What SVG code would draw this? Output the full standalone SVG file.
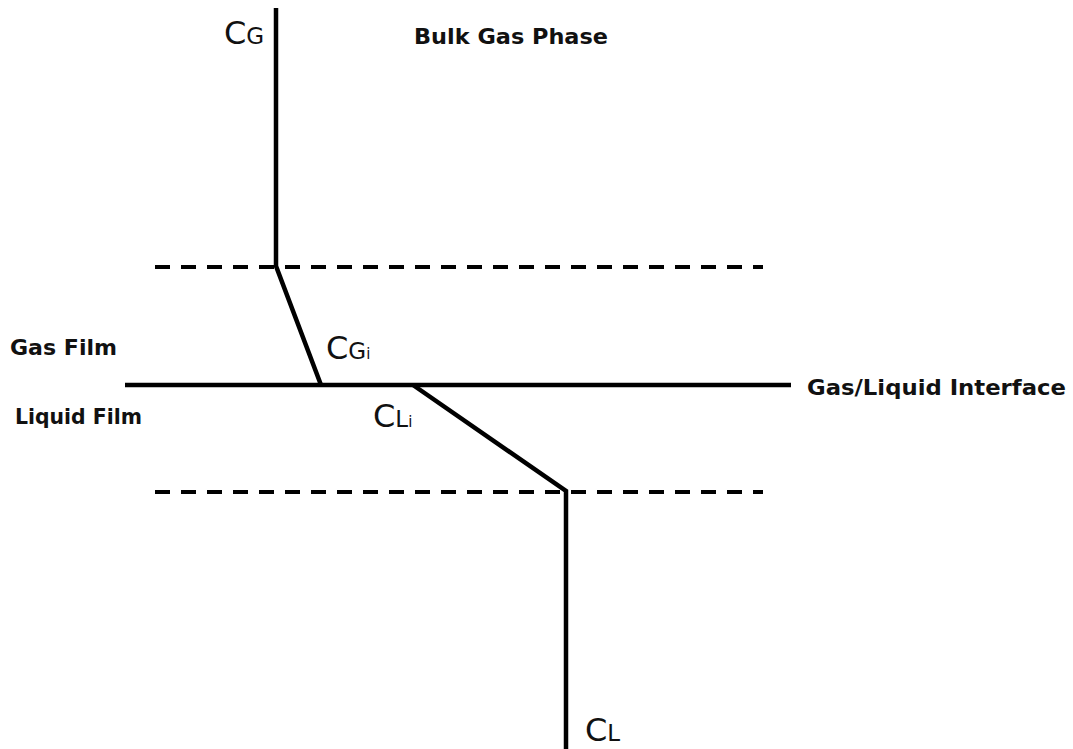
<svg xmlns="http://www.w3.org/2000/svg" width="1073" height="749" viewBox="0 0 1073 749">
<style>
.lbl{font-family:"DejaVu Sans",Verdana,sans-serif;font-weight:bold;font-size:21px;fill:#111}
.c{font-family:"DejaVu Sans",Verdana,sans-serif;font-size:32px;fill:#111}
.s{font-size:23px}
.i{font-size:15px}
.line{stroke:#000;stroke-width:4.5;fill:none}
.dash{stroke:#000;stroke-width:4;stroke-dasharray:15 11;fill:none}
</style>
<rect width="1073" height="749" fill="#fff"/>
<g id="connectors">
<line class="dash" x1="155" y1="267" x2="763" y2="267"/>
<line class="dash" x1="155" y1="492" x2="763" y2="492"/>
<line id="interface" class="line" x1="125" y1="385" x2="791" y2="385"/>
<polyline class="line" points="276,8 276,266 321,385"/>
<polyline class="line" points="413,385 566,491 566,749"/>
</g>
<g id="label-bulk"><text class="lbl" x="414" y="44" textLength="194" lengthAdjust="spacingAndGlyphs">Bulk Gas Phase</text></g>
<g id="label-gasfilm"><text class="lbl" x="10" y="355" textLength="107" lengthAdjust="spacingAndGlyphs">Gas Film</text></g>
<g id="label-liquidfilm"><text class="lbl" x="15" y="424" textLength="127" lengthAdjust="spacingAndGlyphs">Liquid Film</text></g>
<g id="label-interface"><text class="lbl" x="807" y="395" textLength="259" lengthAdjust="spacingAndGlyphs">Gas/Liquid Interface</text></g>
<g id="CG"><text class="c" x="224" y="44">C<tspan class="s">G</tspan></text></g>
<g id="CGi"><text class="c" x="326" y="359">C<tspan class="s">G</tspan><tspan class="i">i</tspan></text></g>
<g id="CLi"><text class="c" x="373" y="427">C<tspan class="s">L</tspan><tspan class="i">i</tspan></text></g>
<g id="CL"><text class="c" x="585" y="741">C<tspan class="s">L</tspan></text></g>
</svg>
